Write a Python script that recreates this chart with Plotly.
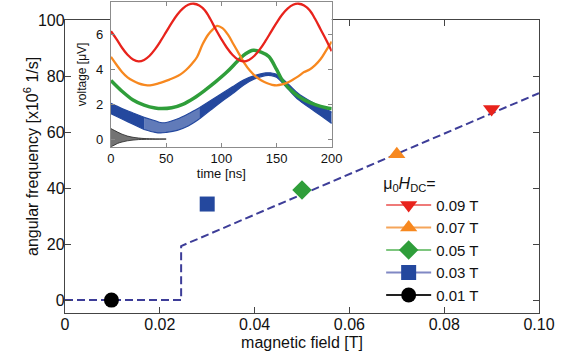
import plotly.graph_objects as go

# main panel: resonance points
field_T = [0.0098, 0.03, 0.05, 0.07, 0.09]
ang_freq = [0.0, 34.3, 39.3, 52.1, 68.2]
field_labels = ["0.01 T", "0.03 T", "0.05 T", "0.07 T", "0.09 T"]

# dashed model line
model_field = [0.0, 0.0245, 0.0245, 0.1]
model_freq = [0.0, 0.0, 19.3, 73.9]

x_ticks = [0, 0.02, 0.04, 0.06, 0.08, 0.10]
x_ticklabels = ["0", "0.02", "0.04", "0.06", "0.08", "0.10"]
y_ticks = [0, 20, 40, 60, 80, 100]

# inset: voltage traces
t_red = [0, 5, 10, 15, 20, 25, 30, 35, 40, 45, 50, 55, 60, 65, 70, 75, 80, 85, 90, 95, 100,
         105, 110, 115, 120, 125, 130, 135, 140, 145, 150, 155, 160, 165, 170, 175, 180, 185, 190, 195, 200]
v_red = [6.2, 5.75, 5.25, 4.85, 4.58, 4.47, 4.55, 4.79, 5.17, 5.64, 6.16, 6.68, 7.15, 7.5, 7.72, 7.78,
         7.68, 7.4, 6.9, 6.3, 5.75, 5.25, 4.85, 4.58, 4.47, 4.55, 4.79, 5.17, 5.64, 6.16, 6.68, 7.15,
         7.5, 7.72, 7.78, 7.68, 7.4, 6.9, 6.3, 5.7, 5.05]

t_orange = [0, 5, 10, 15, 20, 25, 30, 33, 38, 43, 48, 53, 58, 63, 68, 73, 78, 83, 88, 93, 96,
            101, 106, 111, 116, 121, 126, 131, 136, 141, 146, 150, 155, 160, 165, 170, 175, 180, 185, 190, 195, 200]
v_orange = [4.72, 4.27, 3.86, 3.55, 3.35, 3.2, 3.11, 3.09, 3.12, 3.2, 3.3, 3.42, 3.55, 3.72, 3.97, 4.3, 4.72,
            5.45, 6.0, 6.35, 6.51, 6.38, 6.0, 5.45, 4.9, 4.35, 3.92, 3.6, 3.38, 3.22, 3.12, 3.09, 3.14, 3.25,
            3.42, 3.62, 3.85, 4.0, 4.25, 4.6, 5.1, 5.6]

t_green = [0, 10, 20, 30, 40, 46, 55, 65, 75, 85, 95, 105, 115, 122, 129, 136, 143, 150, 155, 160,
           165, 170, 175, 185, 195, 200]
v_green = [3.37, 2.75, 2.25, 1.95, 1.78, 1.75, 1.8, 2.0, 2.35, 2.8, 3.3, 3.85, 4.5, 4.9, 5.1, 5.0, 4.75,
           4.0, 3.4, 3.0, 2.7, 2.45, 2.25, 1.98, 1.8, 1.75]

# blue trace is a fast oscillation: upper/lower envelope; middle part looks hatched
t_blue = [0, 10, 20, 30, 40, 45, 50, 60, 70, 80, 90, 100, 110, 120, 130, 140, 145, 150, 160, 170, 180, 190, 200]
v_blue_hi = [2.05, 1.75, 1.5, 1.25, 1.05, 0.95, 0.95, 1.15, 1.45, 1.8, 2.2, 2.6, 3.0, 3.4, 3.65, 3.8, 3.8,
             3.72, 3.2, 2.6, 2.2, 1.85, 1.55]
v_blue_lo = [1.45, 1.15, 0.85, 0.55, 0.38, 0.35, 0.38, 0.5, 0.75, 1.15, 1.65, 2.15, 2.6, 3.1, 3.45, 3.65, 3.65,
             3.55, 2.9, 2.25, 1.8, 1.35, 0.9]
hatch_start, hatch_end = 3, 9   # indices into t_blue (30 ns .. 80 ns)

t_black = [0, 3, 6, 10, 15, 20, 25, 30, 40, 50]
v_black_hi = [0.6, 0.5, 0.4, 0.28, 0.17, 0.1, 0.06, 0.03, 0.01, 0.0]
v_black_lo = [-0.45, -0.35, -0.25, -0.17, -0.1, -0.06, -0.03, -0.02, -0.01, 0.0]

inset_xticks = [0, 50, 100, 150, 200]
inset_yticks = [0, 2, 4, 6]

FONT = "Liberation Sans, Arial, sans-serif"
RED, ORANGE, GREEN, BLUE, BLACK = "#e8231c", "#f7881f", "#2f9e3a", "#24489e", "#000000"

fig = go.Figure()

# dashed line under the markers
fig.add_trace(go.Scatter(x=model_field, y=model_freq, mode="lines",
                         line=dict(color="#3d3d98", width=2, dash="8px,4px"),
                         showlegend=False, hoverinfo="skip"))

# legend order top -> bottom: 0.09 ... 0.01
styles = [
    ("triangle-down", RED, "#ef7a78"),
    ("triangle-up", ORANGE, "#f5a55a"),
    ("diamond", GREEN, "#7ec67f"),
    ("square", BLUE, "#8088c4"),
    ("circle", BLACK, "#222222"),
]
for i in reversed(range(len(field_T))):
    sym, col, lcol = styles[len(field_T) - 1 - i]
    fig.add_trace(go.Scatter(
        x=[field_T[i]], y=[ang_freq[i]], mode="lines+markers", name=field_labels[i],
        marker=dict(symbol=sym, color=col, size=15, line=dict(width=0)),
        line=dict(color=lcol, width=2),
    ))


def band(t, hi, lo, edge, fill, w=1.2):
    fig.add_trace(go.Scatter(x=t, y=hi, mode="lines", line=dict(color=edge, width=w, shape="spline"),
                             xaxis="x2", yaxis="y2", showlegend=False))
    fig.add_trace(go.Scatter(x=t, y=lo, mode="lines", line=dict(color=edge, width=w, shape="spline"),
                             fill="tonexty", fillcolor=fill,
                             xaxis="x2", yaxis="y2", showlegend=False))


# inset traces
band(t_black, v_black_hi, v_black_lo, "#222", "rgba(0,0,0,0.55)", w=0.8)
a, b = hatch_start, hatch_end
band(t_blue[:a + 1], v_blue_hi[:a + 1], v_blue_lo[:a + 1], BLUE, BLUE)
band(t_blue[a:b + 1], v_blue_hi[a:b + 1], v_blue_lo[a:b + 1], BLUE, "rgba(36,72,158,0.72)")
band(t_blue[b:], v_blue_hi[b:], v_blue_lo[b:], BLUE, BLUE)
fig.add_trace(go.Scatter(x=t_green, y=v_green, mode="lines", line=dict(color=GREEN, width=3.5, shape="spline"),
                         xaxis="x2", yaxis="y2", showlegend=False))
fig.add_trace(go.Scatter(x=t_orange, y=v_orange, mode="lines", line=dict(color=ORANGE, width=2.3, shape="spline"),
                         xaxis="x2", yaxis="y2", showlegend=False))
fig.add_trace(go.Scatter(x=t_red, y=v_red, mode="lines", line=dict(color=RED, width=2.3, shape="spline"),
                         xaxis="x2", yaxis="y2", showlegend=False))

axis_main = dict(ticks="inside", ticklen=6, tickwidth=1.2, tickcolor="#444", mirror="ticks",
                 showline=True, linecolor="#444", linewidth=1.3, showgrid=False, zeroline=False,
                 tickfont=dict(size=16, color="#111"))
axis_inset = dict(ticks="inside", ticklen=4, tickwidth=1, tickcolor="#888", mirror="ticks",
                  showline=True, linecolor="#8c8c8c", linewidth=1.2, showgrid=False, zeroline=False,
                  tickfont=dict(size=13, color="#111"))

fig.update_layout(
    width=561, height=363,
    template="none",
    font=dict(family=FONT, color="#111"),
    paper_bgcolor="white", plot_bgcolor="white",
    margin=dict(l=65, r=22, t=1, b=50),
    xaxis=dict(axis_main, domain=[0, 1], range=[0, 0.1], tickvals=x_ticks, ticktext=x_ticklabels,
               anchor="y", ticklabelstandoff=-3,
               title=dict(text="magnetic field [T]", font=dict(size=16), standoff=4)),
    yaxis=dict(axis_main, domain=[0, 0.9391], range=[-4.6, 100], tickvals=y_ticks, anchor="x",
               ticklabelstandoff=-4),
    xaxis2=dict(axis_inset, domain=[0.097, 0.5627], range=[0, 200], tickvals=inset_xticks, anchor="y2",
                title=dict(text="time [ns]", font=dict(size=13), standoff=2)),
    yaxis2=dict(axis_inset, domain=[0.533, 0.9968], range=[-0.44, 7.88], tickvals=inset_yticks, anchor="x2",
                ticklabelstandoff=4,
                title=dict(text="voltage [μV]", font=dict(size=12), standoff=6)),
    legend=dict(x=0.667, y=0.465, xanchor="left", yanchor="top", bgcolor="rgba(0,0,0,0)",
                font=dict(size=15), itemwidth=45, traceorder="normal",
                title=dict(text="μ<sub>0</sub><i>H</i><sub>DC</sub>=", font=dict(size=16))),
    annotations=[dict(text="angular frequency [x10<sup>6</sup> 1/s]", textangle=-90,
                      xref="paper", yref="paper", x=-0.0717, y=0.500, xanchor="center", yanchor="middle",
                      showarrow=False, font=dict(size=16))],
)

fig.write_html("out.html", config={"displayModeBar": False},
               post_script="document.body.style.margin='0px';")
